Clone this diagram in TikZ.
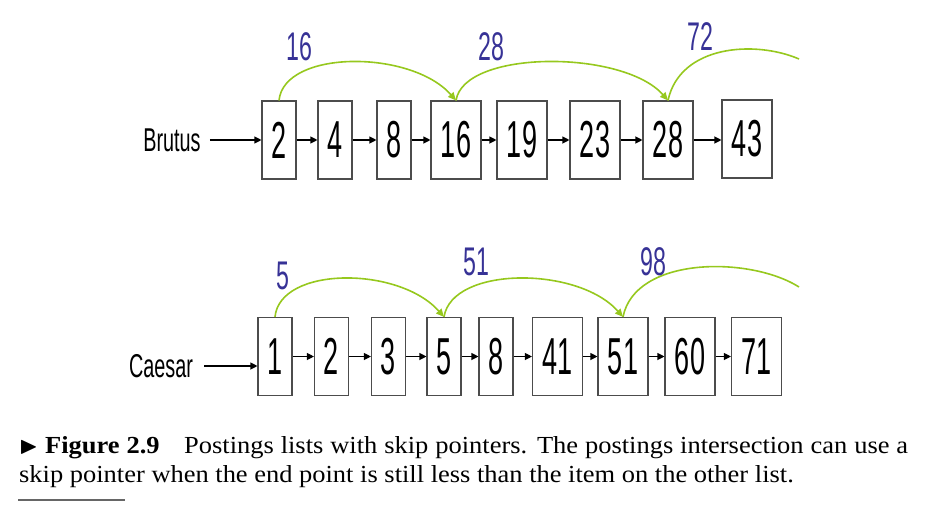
\documentclass[tikz,border=0pt]{standalone}
\usepackage{amssymb}
\usepackage{fontspec}
\newfontfamily\condfont[FakeStretch=0.52]{Liberation Sans}
\newfontfamily\lblfont[FakeStretch=0.58]{Liberation Sans}
\newfontfamily\termfont[FakeStretch=0.6]{Liberation Sans}
\newfontfamily\capfont[FakeStretch=1.08]{Liberation Serif}
\usetikzlibrary{arrows.meta}
\definecolor{skipgreen}{RGB}{150,200,30}
\definecolor{lblblue}{RGB}{55,50,150}
\begin{document}
\begin{tikzpicture}[x=1pt,y=-1pt,
  post/.style={draw=black!70, line width=1.1pt, minimum height=78pt, inner sep=0pt,
    font=\condfont\fontsize{52}{52}\selectfont},
  one/.style={post, minimum width=34pt},
  two/.style={post, minimum width=50pt},
  link/.style={draw=black, line width=1.1pt, -{Triangle[length=7pt,width=7pt]}},
  skipptr/.style={draw=skipgreen, line width=1.6pt, -{Triangle[length=8pt,width=7pt]}},
  skipfree/.style={draw=skipgreen, line width=1.6pt},
  lbl/.style={text=lblblue, inner sep=0pt, font=\lblfont\fontsize{40}{40}\selectfont},
  term/.style={inner sep=0pt, font=\termfont\fontsize{33}{33}\selectfont}]
\useasboundingbox (0,0) rectangle (933,511);
% Brutus
\node[term] (brutus) at (172,140) {Brutus};
\node[one] (b2)  at (279,140) {2};
\node[one] (b4)  at (335,140) {4};
\node[one] (b8)  at (394,140) {8};
\node[two] (b16) at (456,140) {16};
\node[two] (b19) at (522,140) {19};
\node[two] (b23) at (595,140) {23};
\node[two] (b28) at (668,140) {28};
\node[two] (b43) at (747,139) {43};
\draw[link] ([xshift=9pt]brutus.east) -- (b2.west);
\draw[link] (b2) -- (b4);
\draw[link] (b4) -- (b8);
\draw[link] (b8) -- (b16);
\draw[link] (b16) -- (b19);
\draw[link] (b19) -- (b23);
\draw[link] (b23) -- (b28);
\draw[link] (b28.east) -- (b28.east -| b43.west);
\draw[skipptr] (b2.north) .. controls +(5,-51) and +(-45,-51) .. (b16.north);
\draw[skipptr] (b16.north) .. controls +(8,-51) and +(-45,-51) .. (b28.north);
\coordinate (t72) at (799,59);
\draw[skipfree] (b28.north) .. controls (680,45) and (755,40) .. (t72);
\node[lbl] (l16) at (299,47) {16};
\node[lbl] (l28) at (491,47) {28};
\node[lbl] (l72) at (700,37) {72};
% Caesar
\node[term] (caesar) at (161,366) {Caesar};
\node[one] (c1)  at (275,356.5) {1};
\node[one] (c2)  at (331.5,356.5) {2};
\node[one] (c3)  at (388.5,356.5) {3};
\node[one] (c5)  at (444,356.5) {5};
\node[one] (c8)  at (496,356.5) {8};
\node[two] (c41) at (557.5,356.5) {41};
\node[two] (c51) at (623,356.5) {51};
\node[two] (c60) at (690,356.5) {60};
\node[two] (c71) at (756.5,356.5) {71};
\draw[link] ([xshift=11pt]caesar.east) -- (caesar.east -| c1.west);
\draw[link] (c1) -- (c2);
\draw[link] (c2) -- (c3);
\draw[link] (c3) -- (c5);
\draw[link] (c5) -- (c8);
\draw[link] (c8) -- (c41);
\draw[link] (c41) -- (c51);
\draw[link] (c51) -- (c60);
\draw[link] (c60) -- (c71);
\draw[skipptr] (c1.north) .. controls +(5,-51) and +(-45,-51) .. (c5.north);
\draw[skipptr] (c5.north) .. controls +(8,-51) and +(-45,-51) .. (c51.north);
\coordinate (t98) at (799,287);
\draw[skipfree] (c51.north) .. controls (635,256) and (750,256) .. (t98);
\node[lbl] (l5)  at (283,276) {5};
\node[lbl] (l51) at (476,262) {51};
\node[lbl] (l98) at (653,262) {98};
% caption
\node[anchor=north west, inner sep=0pt, text width=889pt, align=justify,
  font=\capfont\fontsize{24.5}{29}\selectfont] (cap) at (19,436)
  {$\blacktriangleright$ \textbf{Figure 2.9}\quad Postings lists with skip pointers.  The postings intersection can use a\linebreak skip pointer when the end point is still less than the item on the other list.};
\draw[black!60, line width=1.2pt] (18,500) -- (125,500);
\end{tikzpicture}
\end{document}
